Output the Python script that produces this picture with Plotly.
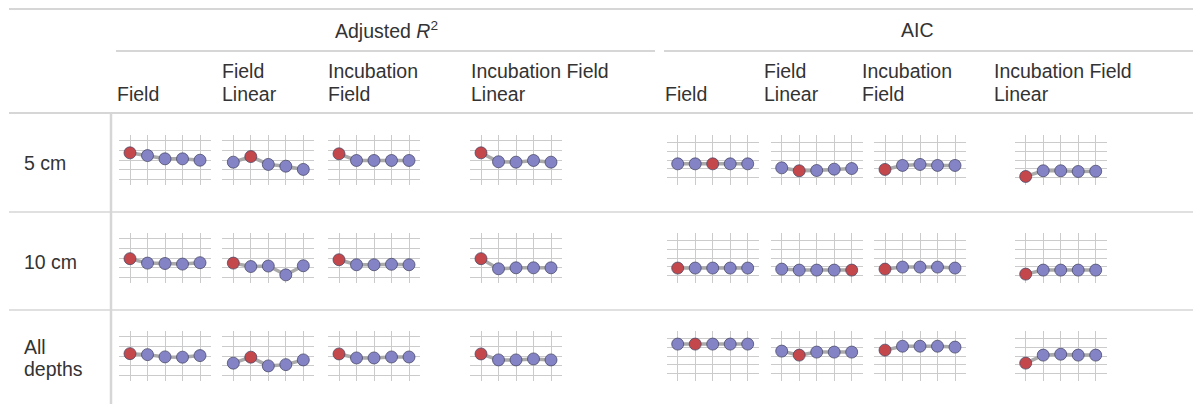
import plotly.graph_objects as go

W, H = 1193, 404

# Table structure
metric_groups = ["Adjusted <i>R</i><sup>2</sup>", "AIC"]
model_names = ["Field", "Field<br>Linear", "Incubation<br>Field", "Incubation Field<br>Linear"]
depth_labels = ["5 cm", "10 cm", "All<br>depths"]

# Sparkline values (relative score per candidate, five candidates per cell)
adj_r2_5cm = [[2.73, 2.45, 2.12, 2.12, 1.98],
              [1.78, 2.35, 1.55, 1.37, 1.04],
              [2.63, 1.95, 1.95, 1.95, 1.95],
              [2.73, 1.82, 1.78, 1.95, 1.78]]
adj_r2_10cm = [[1.93, 1.48, 1.44, 1.38, 1.52],
               [1.48, 1.13, 1.18, 0.28, 1.21],
               [1.82, 1.31, 1.31, 1.36, 1.31],
               [1.93, 0.90, 1.00, 1.00, 1.00]]
adj_r2_all = [[2.24, 2.14, 1.91, 1.88, 2.04],
              [1.27, 1.88, 0.99, 1.12, 1.60],
              [2.21, 1.80, 1.80, 1.90, 1.90],
              [2.21, 1.60, 1.60, 1.70, 1.60]]
aic_5cm = [[1.57, 1.57, 1.57, 1.57, 1.57],
           [1.12, 0.79, 0.82, 0.97, 1.04],
           [0.94, 1.39, 1.50, 1.39, 1.39],
           [0.15, 0.79, 0.79, 0.71, 0.74]]
aic_10cm = [[0.87, 0.87, 0.87, 0.87, 0.87],
            [0.75, 0.64, 0.64, 0.64, 0.64],
            [0.75, 0.98, 0.98, 0.98, 0.87],
            [0.19, 0.64, 0.64, 0.64, 0.64]]
aic_all = [[3.34, 3.34, 3.34, 3.34, 3.34],
           [2.55, 2.10, 2.44, 2.44, 2.44],
           [2.66, 3.10, 3.10, 3.10, 3.00],
           [1.20, 2.10, 2.20, 2.10, 2.10]]

# Index of the selected candidate in each cell
best_5cm = [0, 1, 0, 0, 2, 1, 0, 0]
best_10cm = [0, 0, 0, 0, 0, 4, 0, 0]
best_all = [0, 1, 0, 0, 1, 1, 0, 0]

rows = [
    (adj_r2_5cm + aic_5cm, best_5cm),
    (adj_r2_10cm + aic_10cm, best_10cm),
    (adj_r2_all + aic_all, best_all),
]

# Layout geometry (pixels)
col_text_x = [115, 220, 326, 469, 663, 762, 860, 992]
spark_x0 = [130, 233.3, 339, 481, 677.7, 781.7, 885, 1025.7]
step_px = 17.5
pad_x = 11
panel_top = [135, 233, 331]
panel_h = 50
row_text_y = [163, 262, 358]

RED = "#C4474B"
BLUE = "#8383C6"
LINE = "#AAAAAA"
GRID = "#CBCBCB"
RULE = "#D6D6D6"
TEXT = "#333333"
FONT = "Liberation Sans, Arial, Helvetica, sans-serif"
FS = 19.5

fig = go.Figure()
layout_axes = {}

k = 0
for r, (cells, best) in enumerate(rows):
    for c in range(8):
        k += 1
        xs = "x" if k == 1 else f"x{k}"
        ys = "y" if k == 1 else f"y{k}"
        xa = "xaxis" if k == 1 else f"xaxis{k}"
        ya = "yaxis" if k == 1 else f"yaxis{k}"
        vals = cells[c]
        colors = [RED if i == best[c] else BLUE for i in range(len(vals))]
        fig.add_trace(go.Scatter(
            x=list(range(len(vals))), y=vals, xaxis=xs, yaxis=ys,
            mode="lines+markers",
            line=dict(color=LINE, width=3.5),
            marker=dict(size=12, color=colors,
                        line=dict(color="rgba(70,70,100,0.75)", width=1)),
            hoverinfo="skip", showlegend=False,
        ))
        x0 = spark_x0[c] - pad_x
        x1 = spark_x0[c] + 4 * step_px + pad_x
        top = panel_top[r]
        bot = top + panel_h
        half = 2.55 if c < 4 else 2.81
        layout_axes[xa] = dict(
            domain=[x0 / W, x1 / W], anchor=ys,
            range=[-pad_x / step_px, 4 + pad_x / step_px],
            tickvals=[0, 1, 2, 3, 4], showticklabels=False, ticks="",
            showgrid=True, gridcolor=GRID, gridwidth=1,
            zeroline=False, showline=False, fixedrange=True,
        )
        layout_axes[ya] = dict(
            domain=[(H - bot) / H, (H - top) / H], anchor=xs,
            range=[2 - half, 2 + half],
            tickvals=[0, 1, 2, 3, 4], showticklabels=False, ticks="",
            showgrid=True, gridcolor=GRID, gridwidth=1,
            zeroline=False, showline=False, fixedrange=True,
        )

fig.update_layout(**layout_axes)


def hline(y, x0, x1, w=2):
    return dict(type="line", xref="paper", yref="paper",
                x0=x0 / W, x1=x1 / W, y0=(H - y) / H, y1=(H - y) / H,
                line=dict(color=RULE, width=w), layer="below")


shapes = [
    hline(9, 9, W),
    hline(51, 116, 655),
    hline(51, 664, W),
    hline(113, 9, W),
    hline(212, 9, W, 1.5),
    hline(310, 9, W, 1.5),
    dict(type="line", xref="paper", yref="paper",
         x0=111 / W, x1=111 / W, y0=0, y1=(H - 113) / H,
         line=dict(color=RULE, width=2.5), layer="below"),
]

annotations = []


def label(text, x, y, xanchor="left"):
    annotations.append(dict(
        text=text, x=x / W, y=(H - y) / H, xref="paper", yref="paper",
        xanchor=xanchor, yanchor="middle", align="left", showarrow=False,
        font=dict(family=FONT, size=FS, color=TEXT),
    ))


def multiline(text, x, y_center, spacing):
    parts = text.split("<br>")
    first = y_center - spacing * (len(parts) - 1) / 2
    for j, part in enumerate(parts):
        label(part, x, first + j * spacing)


label(metric_groups[0], 386, 30, "center")
label(metric_groups[1], 917, 30, "center")

# Column headers are bottom-aligned: last line sits on the same baseline
for i, x in enumerate(col_text_x):
    name = model_names[i % 4]
    n_lines = name.count("<br>") + 1
    multiline(name, x, 94 - 23 * (n_lines - 1) / 2, 23)

for r, text in enumerate(depth_labels):
    multiline(text, 22, row_text_y[r], 22)

fig.update_layout(
    width=W, height=H,
    margin=dict(l=0, r=0, t=0, b=0),
    paper_bgcolor="white", plot_bgcolor="white",
    shapes=shapes, annotations=annotations,
    showlegend=False,
)

fig.write_html("out.html", config={"displayModeBar": False})
